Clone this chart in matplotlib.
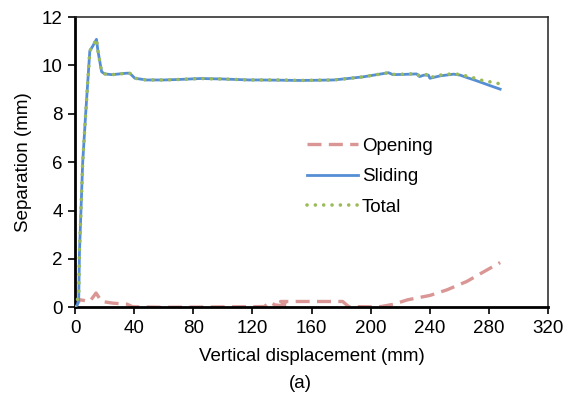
import matplotlib
matplotlib.use("Agg")
import matplotlib.pyplot as plt

plt.rcParams['font.family'] = ['Liberation Sans', 'DejaVu Sans']

# Sliding component (mm) vs vertical displacement (mm)
sliding_x = [0, 1.5, 2.5, 3, 5.2, 7.2, 10, 12, 14.5, 15.5, 18, 20, 25, 30, 35, 37,
             40.5, 45, 48, 60, 70, 85, 100, 118, 125, 140, 152, 165, 175, 186, 195,
             202, 208, 212, 215, 222, 231, 233, 236, 239, 240, 247, 256, 260.5,
             265, 270, 276, 280, 287.5]
sliding_y = [0, 0.1, 0.3, 2.25, 6.0, 8.0, 10.6, 10.8, 11.08, 10.6, 9.74, 9.65, 9.62,
             9.65, 9.68, 9.68, 9.47, 9.43, 9.40, 9.40, 9.42, 9.46, 9.44, 9.40, 9.40,
             9.39, 9.38, 9.39, 9.40, 9.47, 9.53, 9.60, 9.66, 9.70, 9.62, 9.63, 9.65,
             9.54, 9.60, 9.60, 9.47, 9.57, 9.64, 9.60, 9.50, 9.40, 9.27, 9.18, 9.02]

# Total separation (mm)
total_x = [0, 1.5, 2.5, 3, 5.2, 7.2, 10, 12, 14.5, 15.5, 18, 20, 25, 30, 35, 37,
           40.5, 45, 48, 60, 70, 85, 100, 118, 125, 140, 152, 165, 175, 186, 195,
           202, 208, 212, 215, 222, 231, 233, 236, 239, 240, 247, 256, 260.5,
           265, 270, 276, 280, 287.5]
total_y = [0, 0.3, 0.45, 2.27, 6.0, 8.0, 10.6, 10.8, 11.1, 10.6, 9.74, 9.65, 9.62,
           9.65, 9.68, 9.68, 9.47, 9.43, 9.40, 9.40, 9.42, 9.46, 9.44, 9.40, 9.40,
           9.40, 9.38, 9.39, 9.40, 9.47, 9.53, 9.60, 9.66, 9.70, 9.63, 9.64, 9.66,
           9.56, 9.62, 9.62, 9.50, 9.60, 9.66, 9.62, 9.56, 9.48, 9.37, 9.33, 9.24]

# Opening component (mm)
opening_x = [0, 3.4, 10, 14.2, 18, 25.8, 35, 39, 60, 90, 110, 128, 132, 135, 145,
             139, 160, 181, 185, 200, 207, 215, 225, 240, 251.5, 265, 275, 287.5]
opening_y = [0, 0.31, 0.24, 0.59, 0.24, 0.17, 0.13, 0.02, 0.0, 0.01, 0.02, 0.03,
             0.22, 0.10, 0.03, 0.24, 0.24, 0.24, 0.03, 0.02, 0.03, 0.12, 0.31, 0.49,
             0.72, 1.07, 1.42, 1.85]

x_ticks = list(range(0, 321, 40))
y_ticks = list(range(0, 13, 2))

FS = 13.5

fig = plt.figure(figsize=(5.64, 4.07), dpi=100)
ax = fig.add_axes([0.133, 0.245, 0.839, 0.713])

ax.plot(opening_x, opening_y, color='#DA9694', lw=2.4, dashes=(4.2, 2.2),
        label='Opening', zorder=2)
ax.plot(sliding_x, sliding_y, color='#558ED5', lw=2.0, label='Sliding', zorder=3)
ax.plot(total_x, total_y, color='#9BBB59', lw=2.6, dashes=(0.01, 2.3),
        dash_capstyle='round', label='Total', zorder=4)

ax.set_xlim(0, 320)
ax.set_ylim(0, 12)
ax.set_xticks(x_ticks)
ax.set_yticks(y_ticks)
ax.tick_params(direction='out', length=5, width=1.2, labelsize=FS, pad=4,
               top=False, right=False)

for side in ['left', 'bottom']:
    ax.spines[side].set_linewidth(2.0)
for side in ['top', 'right']:
    ax.spines[side].set_linewidth(1.1)
    ax.spines[side].set_color('#222222')

ax.set_xlabel('Vertical displacement (mm)', fontsize=FS, labelpad=8)
ax.set_ylabel('Separation (mm)', fontsize=FS, labelpad=7)

leg = ax.legend(loc='upper left', bbox_to_anchor=(0.474, 0.611), frameon=False,
                fontsize=FS, handlelength=2.75, handletextpad=0.2,
                labelspacing=0.72, borderaxespad=0)

fig.text(0.532, 0.058, '(a)', ha='center', va='center', fontsize=FS)

fig.savefig('out.png', dpi=100)
